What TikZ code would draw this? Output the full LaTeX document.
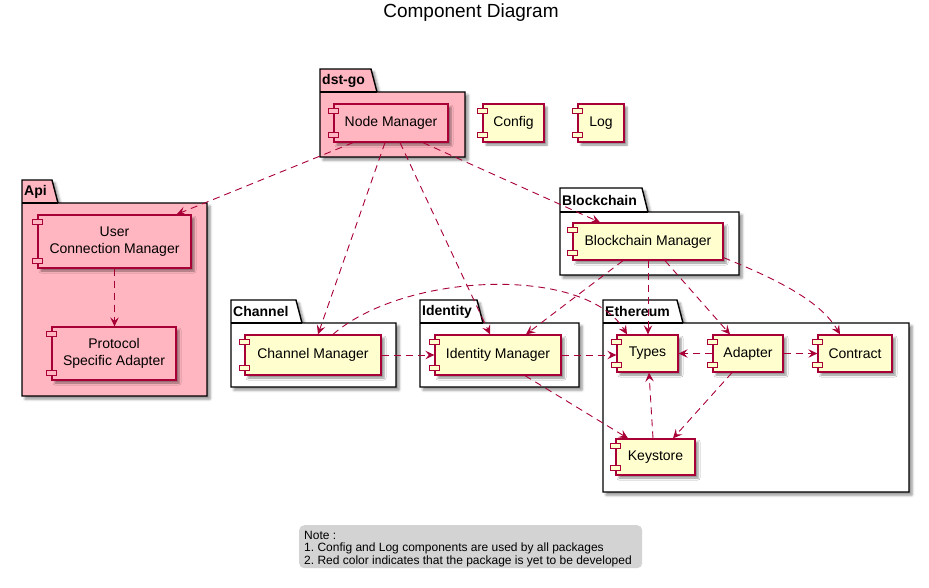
\documentclass[tikz,border=0pt]{standalone}
\usepackage{fontspec}
\setmainfont{Liberation Sans}
\usetikzlibrary{arrows.meta,shadows.blur,calc}
\definecolor{compfill}{HTML}{FEFECE}
\definecolor{compline}{HTML}{A80036}
\definecolor{pkgpink}{HTML}{FFB6C1}
\definecolor{notegray}{HTML}{D3D3D3}
\newcommand\mypkg[9]{%
  \path[pkgshape, fill=#8] (#2,#3) -- (#4-6,#3) -- (#4,#5) -- (#6,#5) -- (#6,#7) -- (#2,#7) -- cycle;
  \draw[pkgline] (#2,#5) -- (#4,#5);
  \node[pkglabel, anchor=west] (#1) at (#2+2,{(#3+#5)/2}) {#9};
}
\begin{document}
\frenchspacing
\begin{tikzpicture}[x=1pt,y=-1pt,
  pkgshape/.style={draw=black, line width=1.4pt, line join=miter,
    blur shadow={shadow xshift=3pt, shadow yshift=-3pt, shadow blur radius=2.5pt, shadow opacity=45}},
  pkgline/.style={draw=black, line width=1.4pt},
  pkglabel/.style={font=\bfseries\fontsize{14}{16}\selectfont, inner sep=0pt},
  comp/.style={rectangle, draw=compline, fill=compfill, line width=1.3pt, inner sep=0pt,
    align=center, font=\fontsize{14}{16.5}\selectfont,
    blur shadow={shadow xshift=3pt, shadow yshift=-3pt, shadow blur radius=2pt, shadow opacity=45}},
  pinkcomp/.style={comp, fill=pkgpink},
  compsmall/.style={draw=compline, line width=1.1pt},
  dep/.style={draw=compline, line width=0.9pt, dash pattern=on 7pt off 5pt,
    -{Stealth[length=9pt,width=8.5pt,inset=3.5pt]}},
  notebox/.style={rectangle, fill=notegray, rounded corners=5pt, inner sep=0pt,
    anchor=north west, minimum width=343pt, minimum height=43pt},
  notetext/.style={align=left, inner sep=0pt, anchor=base west, font=\fontsize{12}{12.3}\selectfont}
]
\useasboundingbox (0,0) rectangle (929,587);

\node[font=\fontsize{19}{22}\selectfont] (title) at (471,13) {Component Diagram};

% packages
\mypkg{pdst}{320}{69}{377}{92}{465}{157}{pkgpink}{dst-go}
\mypkg{papi}{22}{180}{58}{203}{207}{396}{pkgpink}{Api}
\mypkg{pbc}{560}{188}{648}{212}{739}{275}{white}{Blockchain}
\mypkg{pch}{231}{300}{302}{323}{396}{387}{white}{Channel}
\mypkg{pid}{420}{300}{483}{323}{579}{387}{white}{Identity}
\mypkg{peth}{603}{300}{683}{323}{909}{492}{white}{Ethereum}

% components
\node[pinkcomp, minimum width=114pt, minimum height=38pt] (nm) at (391,123) {Node Manager};
\node[comp, minimum width=61pt, minimum height=38pt] (cfg) at (513.5,123) {Config};
\node[comp, minimum width=46pt, minimum height=38pt] (log) at (601,123) {Log};
\node[pinkcomp, minimum width=153pt, minimum height=53pt] (ucm) at (114.5,241.5) {User\\Connection Manager};
\node[pinkcomp, minimum width=124pt, minimum height=53pt] (psa) at (114,353.5) {Protocol\\Specific Adapter};
\node[comp, minimum width=136pt, minimum height=40pt] (chm) at (313,355) {Channel Manager};
\node[comp, minimum width=126pt, minimum height=40pt] (idm) at (498,355) {Identity Manager};
\node[comp, minimum width=150pt, minimum height=37pt] (bcm) at (648,241.5) {Blockchain Manager};
\node[comp, minimum width=61pt, minimum height=37pt] (types) at (647.5,353.5) {Types};
\node[comp, minimum width=70pt, minimum height=37pt] (ad) at (748,353.5) {Adapter};
\node[comp, minimum width=74pt, minimum height=37pt] (ct) at (855,353.5) {Contract};
\node[comp, minimum width=79pt, minimum height=36pt] (ks) at (655.5,457) {Keystore};

\foreach \n/\f in {nm/pkgpink,cfg/compfill,log/compfill,ucm/pkgpink,psa/pkgpink,chm/compfill,idm/compfill,bcm/compfill,types/compfill,ad/compfill,ct/compfill,ks/compfill}{
  \draw[compsmall, fill=\f] ([xshift=-5pt,yshift=-5pt]\n.north west) rectangle ([xshift=5pt,yshift=-10pt]\n.north west);
  \draw[compsmall, fill=\f] ([xshift=-5pt,yshift=5pt]\n.south west) rectangle ([xshift=5pt,yshift=10pt]\n.south west);
}

% dependencies
\draw[dep] ([xshift=-38pt]nm.south) -- ([xshift=-15pt]ucm.north east);
\draw[dep] ([xshift=-6pt]nm.south) -- ([xshift=5pt]chm.north);
\draw[dep] ([xshift=9pt]nm.south) -- ([xshift=-8pt]idm.north);
\draw[dep] ([xshift=32pt]nm.south) -- ([xshift=-48pt]bcm.north);
\draw[dep] (ucm.south) -- (ucm.south |- psa.north);
\draw[dep] ([xshift=-25pt]bcm.south) -- ([xshift=28pt]idm.north);
\draw[dep] (bcm.south) -- (bcm.south |- types.north);
\draw[dep] ([xshift=17pt]bcm.south) -- ([xshift=-18pt]ad.north);
\draw[dep] ([yshift=3pt]bcm.south east) .. controls (781,281) and (821,302) .. ([xshift=-15pt]ct.north);
\draw[dep] (chm.east) -- (idm.west);
\draw[dep] ([xshift=20pt]chm.north) .. controls (405,272) and (585,265) .. ([xshift=-20.5pt]types.north);
\draw[dep] (idm.east) -- (idm.east -| types.west);
\draw[dep] ([xshift=27pt]idm.south) -- ([xshift=-27.5pt]ks.north);
\draw[dep] (ad.west) -- (types.east);
\draw[dep] (ad.east) -- (ct.west);
\draw[dep] ([xshift=-16pt]ad.south) -- ([xshift=17.5pt]ks.north);
\draw[dep] ([xshift=-2.5pt]ks.north) -- ([xshift=1.5pt]types.south);

% note
\node[notebox] (note) at (299,525) {};
\node[notetext] (notetxt) at ([xshift=5pt,yshift=-39pt]note.north west) {Note :\\1. Config and Log components are used by all packages\\2. Red color indicates that the package is yet to be developed};
\end{tikzpicture}
\end{document}
